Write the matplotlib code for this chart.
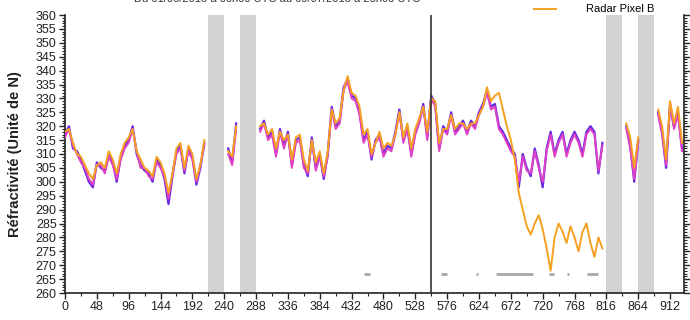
import numpy as np
import matplotlib
matplotlib.use("Agg")
import matplotlib.pyplot as plt
from matplotlib.ticker import MultipleLocator

nan = np.nan

# hourly axis sampled every 6 hours
step_hours = 6

station = [317, 320, 312, 311, 308, 304, 300, 298, 307, 305,
           304, 310, 307, 300, 309, 313, 315, 320, 310, 306,
           304, 303, 300, 308, 306, 301, 292, 302, 311, 313,
           303, 312, 309, 299, 305, 314, nan, nan, nan, nan,
           nan, 312, 307, 321, nan, nan, nan, nan, nan, 319,
           322, 316, 318, 310, 319, 313, 318, 306, 315, 316,
           306, 302, 316, 305, 310, 301, 310, 327, 320, 322,
           334, 337, 331, 330, 325, 315, 318, 308, 315, 317,
           310, 313, 312, 318, 326, 315, 320, 310, 318, 322,
           328, 316, 331, 328, 312, 320, 318, 325, 318, 320,
           322, 318, 322, 320, 325, 328, 333, 327, 328, 320,
           318, 315, 312, 310, 298, 310, 305, 302, 312, 306,
           298, 312, 318, 310, 315, 318, 310, 315, 318, 315,
           310, 318, 320, 318, 303, 314, nan, nan, nan, nan,
           nan, 320, 313, 300, 315, nan, nan, nan, nan, 325,
           318, 305, 328, 320, 325, 312]

pixel_a = [316, 319, 313, 310, 307, 305, 301, 299, 306, 306,
           303, 309, 306, 301, 308, 312, 314, 319, 311, 305,
           305, 302, 301, 307, 305, 302, 294, 303, 310, 312,
           304, 311, 308, 300, 306, 313, nan, nan, nan, nan,
           nan, 310, 306, 319, nan, nan, nan, nan, nan, 318,
           321, 315, 317, 309, 318, 312, 317, 305, 314, 315,
           305, 303, 315, 304, 309, 302, 309, 326, 319, 321,
           333, 336, 330, 329, 324, 314, 317, 309, 314, 316,
           309, 312, 311, 317, 325, 314, 319, 309, 317, 321,
           327, 315, 330, 327, 311, 319, 317, 324, 317, 319,
           321, 317, 321, 319, 324, 327, 332, 326, 327, 319,
           317, 314, 311, 309, 300, 309, 304, 303, 311, 305,
           300, 311, 317, 309, 314, 317, 309, 314, 317, 314,
           309, 317, 319, 317, 304, 313, nan, nan, nan, nan,
           nan, 319, 312, 301, 314, nan, nan, nan, nan, 324,
           317, 306, 327, 319, 324, 311]

pixel_b = [318, 319, 314, 310, 309, 306, 303, 301, 306, 307,
           305, 311, 308, 303, 310, 314, 316, 319, 311, 308,
           305, 304, 302, 309, 307, 303, 296, 303, 312, 314,
           305, 313, 310, 301, 306, 315, nan, nan, nan, nan,
           nan, 311, 309, 320, nan, nan, nan, nan, nan, 320,
           321, 317, 319, 312, 318, 315, 317, 308, 316, 317,
           308, 304, 315, 307, 311, 303, 311, 326, 321, 323,
           333, 338, 332, 331, 327, 317, 319, 310, 314, 318,
           312, 314, 313, 317, 325, 316, 321, 312, 319, 323,
           327, 318, 330, 329, 314, 319, 319, 324, 319, 321,
           321, 319, 321, 321, 324, 327, 334, 329, 331, 332,
           326, 320, 315, 308, 296, 290, 284, 281, 285, 288,
           283, 276, 268, 280, 285, 282, 278, 284, 280, 275,
           282, 285, 278, 273, 280, 276, nan, nan, nan, nan,
           nan, 321, 316, 305, 316, nan, nan, nan, nan, 326,
           320, 308, 329, 321, 327, 314]

# periods without radar data (hours)
gap_start = [216, 264, 816, 864]
gap_end = [240, 288, 840, 888]

# flagged periods drawn as a marker line
flag_start = [450, 566, 620, 650, 729, 756, 787]
flag_end = [460, 576, 623, 706, 737, 760, 803]
flag_level = 267

event_hour = 552

hours = np.arange(len(station)) * step_hours

plt.rcParams['font.family'] = ['Liberation Sans', 'DejaVu Sans']

fig = plt.figure(figsize=(6.9, 3.2), dpi=100)
ax = fig.add_axes([65 / 690, 1 - 293 / 320, (684 - 65) / 690, (293 - 15) / 320])

for s, e in zip(gap_start, gap_end):
    ax.axvspan(s, e, color='#d3d3d3', lw=0, zorder=1)

ax.hlines([flag_level] * len(flag_start), flag_start, flag_end,
          color='#a8a8a8', lw=2, zorder=2)

ax.axvline(event_hour, color='#333333', lw=1.2, zorder=5)

l_st, = ax.plot(hours, station, color='#6a2be0', lw=1.6, zorder=3)
l_a, = ax.plot(hours, pixel_a, color='#e040c8', lw=1.4, zorder=3)
l_b, = ax.plot(hours, pixel_b, color='#f5a020', lw=1.4, zorder=4)

ax.set_xlim(0, 933)
ax.set_ylim(260, 360)
ax.xaxis.set_major_locator(MultipleLocator(48))
ax.xaxis.set_minor_locator(MultipleLocator(24))
ax.yaxis.set_major_locator(MultipleLocator(5))
ax.yaxis.set_minor_locator(MultipleLocator(1))
ax.tick_params(axis='both', which='major', labelsize=9, length=4, width=1,
               pad=2, colors='#222222')
ax.tick_params(axis='both', which='minor', length=2, width=0.8, colors='#222222')
ax.tick_params(axis='y', right=True, which='both')
ax.spines['top'].set_visible(False)
for side in ('left', 'bottom', 'right'):
    ax.spines[side].set_linewidth(1.2)
    ax.spines[side].set_color('#222222')

ax.set_ylabel('Réfractivité (Unité de N)', fontsize=10.5, fontweight='bold',
              color='#222222')
ax.yaxis.set_label_coords(-(65 - 22) / 619, 0.5)

fig.text(277 / 690, 1 + 1 / 320,
         'Du 01/06/2013 à 00h00 UTC au 09/07/2013 à 23h00 UTC',
         ha='center', va='center', fontsize=8, color='#333333')

fig.legend([l_a, l_st, l_b], ['Station de surface', 'Radar Pixel A', 'Radar Pixel B'],
           loc='lower right', bbox_to_anchor=(682 / 690, 1 - 20 / 320),
           frameon=False, fontsize=8, handlelength=2.0, labelspacing=0.4,
           borderpad=0, handletextpad=2.7)

fig.savefig('out.png', dpi=100, facecolor='white')
